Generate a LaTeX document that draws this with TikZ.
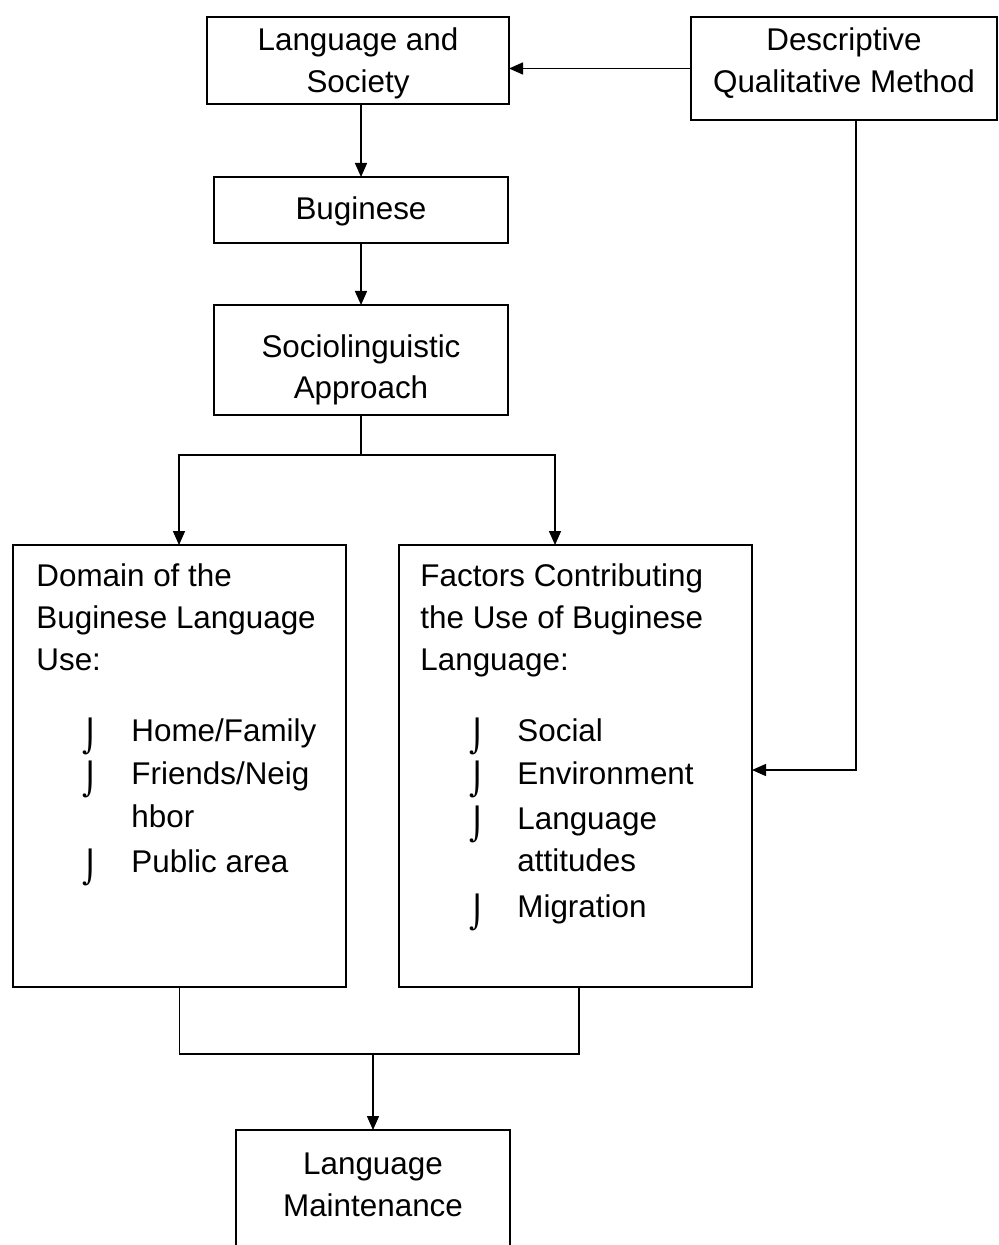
\documentclass[tikz,border=0pt]{standalone}
\usepackage{fontspec}
\setmainfont{Liberation Sans}
\newfontfamily\bulletfont{DejaVu Sans}
\usetikzlibrary{arrows.meta}

\begin{document}
\begin{tikzpicture}[x=0.5pt, y=-0.5pt, font=\fontsize{15.7}{21}\selectfont,
  box/.style={draw, line width=0.75pt, inner sep=0pt, outer sep=0pt},
  link/.style={line width=0.75pt},
  arr/.style={link, -{Triangle[length=7pt, width=6pt]}},
  ctxt/.style={inner sep=0pt, anchor=base},
  ltxt/.style={inner sep=0pt, anchor=base west},
  blt/.style={inner sep=0pt, anchor=base, font=\bulletfont\fontsize{15.7}{21}\selectfont}]
  % Frame of the page
  \useasboundingbox (0,0) rectangle (998,1245);

  % Boxes
  \node[box, minimum width=151pt, minimum height=43.5pt] (lang) at (358,60.5) {};
  \node[box, minimum width=153pt, minimum height=51.5pt] (desc) at (844,68.5) {};
  \node[box, minimum width=147pt, minimum height=33pt] (bug) at (361,210) {};
  \node[box, minimum width=147pt, minimum height=55pt] (socio) at (361,360) {};
  \node[box, minimum width=166.5pt, minimum height=221pt] (dom) at (179.5,766) {};
  \node[box, minimum width=176.5pt, minimum height=221pt] (fac) at (575.5,766) {};
  \node[box, minimum width=137pt, minimum height=70pt] (main) at (373,1200) {};

  % Texts of the boxes
  \node[ctxt] (lang1) at (358,51) {Language and};
  \node[ctxt] (lang2) at (358,93) {Society};
  \node[ctxt] (desc1) at (844,51) {Descriptive};
  \node[ctxt] (desc2) at (844,93) {Qualitative Method};
  \node[ctxt] (bug1) at (361,220) {Buginese};
  \node[ctxt] (socio1) at (361,358) {Sociolinguistic};
  \node[ctxt] (socio2) at (361,399) {Approach};
  \node[ctxt] (main1) at (373,1174) {Language};
  \node[ctxt] (main2) at (373,1216) {Maintenance};

  % Domain of use
  \node[ltxt] (dom1) at (36,586) {Domain of the};
  \node[ltxt] (dom2) at (36,628) {Buginese Language};
  \node[ltxt] (dom3) at (36,670) {Use:};
  \foreach \y/\t in {741/Home\slash Family, 784/Friends\slash Neig, 827/hbor, 872/Public area}
    \node[ltxt] at (131,\y) {\t};
  \foreach \y in {747,790,878}
    \node[blt] at (91,\y) {⌡};

  % Factors
  \node[ltxt] (fac1) at (420,586) {Factors Contributing};
  \node[ltxt] (fac2) at (420,628) {the Use of Buginese};
  \node[ltxt] (fac3) at (420,670) {Language:};
  \foreach \y/\t in {741/Social, 784/Environment, 829/Language, 871/attitudes, 917/Migration}
    \node[ltxt] at (517,\y) {\t};
  \foreach \y in {747,790,835,923}
    \node[blt] at (478,\y) {⌡};

  % Connectors
  \coordinate (split) at (361,455);
  \coordinate (domin) at (179,545);
  \coordinate (facin) at (555,545);
  \coordinate (descout) at (856,120);
  \coordinate (facside) at (752,770);
  \coordinate (facout) at (579,987);
  \coordinate (join) at (373,1054);

  \draw[arr] (desc.west) -- (desc.west -| lang.east);
  \draw[arr] (bug.north |- lang.south) -- (bug.north);
  \draw[arr] (bug.south) -- (socio.north);
  \draw[link] (socio.south) -- (split);
  \draw[arr] (split) -| (domin);
  \draw[arr] (split) -| (facin);
  \draw[arr] (descout) |- (facside);
  \draw[link] (dom.south) |- (join) -| (facout);
  \draw[arr] (join) -- (main.north);
\end{tikzpicture}
\end{document}
